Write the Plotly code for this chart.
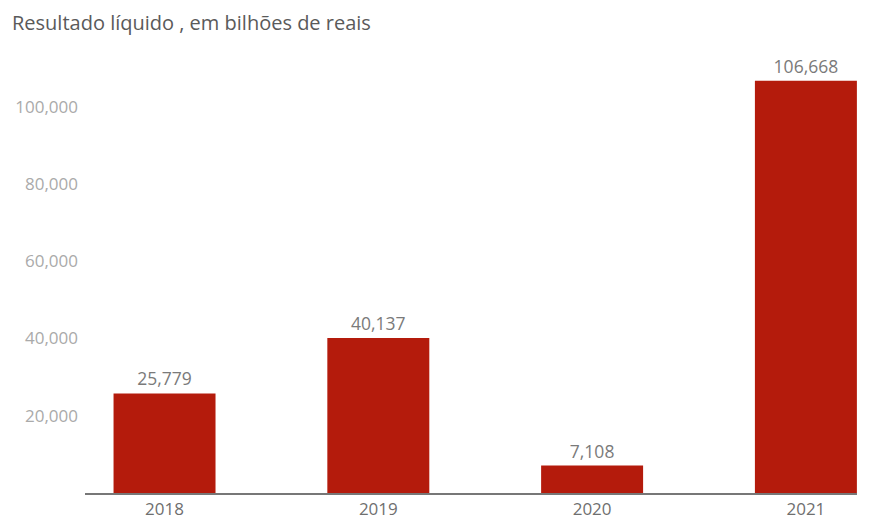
import plotly.graph_objects as go

years = ["2018", "2019", "2020", "2021"]
values = [25779, 40137, 7108, 106668]
value_labels = ["25,779", "40,137", "7,108", "106,668"]
y_ticks = [20000, 40000, 60000, 80000, 100000]
y_tick_labels = ["20,000", "40,000", "60,000", "80,000", "100,000"]
title = "Resultado líquido , em bilhões de reais"

fig = go.Figure(go.Bar(
    x=years, y=values,
    text=value_labels, textposition="outside",
    textfont=dict(family="Open Sans", size=17.5, color="#7a7a7a"),
    marker=dict(color="#b41b0c", line=dict(width=0)),
    width=0.477, cliponaxis=False,
))

fig.update_layout(
    width=872, height=520,
    margin=dict(l=85, r=15, t=68, b=27, autoexpand=False),
    paper_bgcolor="white", plot_bgcolor="white",
    showlegend=False,
    font=dict(family="Open Sans"),
    title=dict(text=title, x=12/872, xref="container", xanchor="left",
               y=1-23/520, yref="container", yanchor="middle",
               pad=dict(l=0, r=0, t=0, b=0),
               font=dict(family="Open Sans", size=20, color="#5a5a5a")),
)
fig.update_xaxes(
    type="category", range=[-0.372, 3.239], automargin=False,
    showline=True, linecolor="#777777", linewidth=1.5,
    showgrid=False, ticks="",
    tickfont=dict(family="Open Sans", size=17, color="#6f6f6f"),
)
fig.update_yaxes(
    range=[0, 110000], tickvals=y_ticks, ticktext=y_tick_labels, automargin=False,
    showgrid=False, zeroline=False, showline=False, ticks="",
    ticklabelstandoff=6,
    tickfont=dict(family="Open Sans", size=17, color="#aaaaaa"),
)

fig.write_html("out.html", config={"displayModeBar": False},
               post_script="document.body.style.margin='0px';")
